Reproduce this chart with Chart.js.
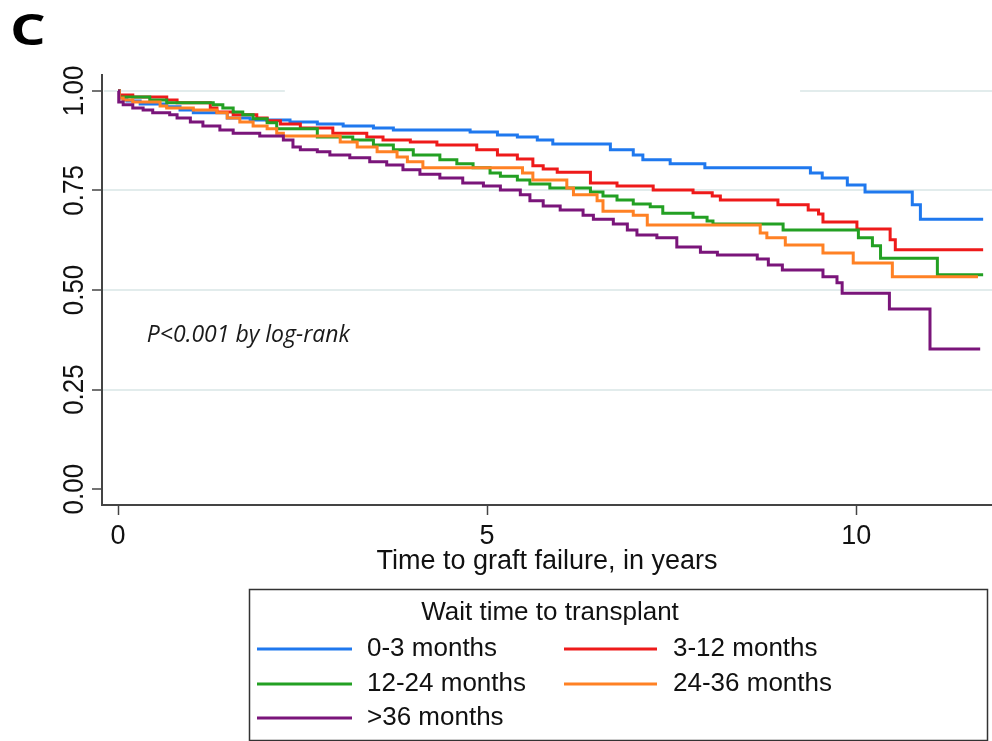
<!DOCTYPE html>
<html>
<head>
<meta charset="utf-8">
<script src="https://cdn.jsdelivr.net/npm/chart.js@4.4.1/dist/chart.umd.min.js"></script>
<style>
  html, body { margin: 0; padding: 0; background: #fff; }
  #wrap { position: relative; width: 992px; height: 741px; }
</style>
</head>
<body>
<div id="wrap"><canvas id="km" width="992" height="741"></canvas></div>
<script>
// Kaplan-Meier curves by wait time to transplant
const groupLabels = ['0-3 months', '3-12 months', '12-24 months', '24-36 months', '>36 months'];

const time0to3 = [0, 0.02, 0.12, 0.30, 0.66, 0.84, 1.02, 1.48, 1.79, 2.33, 2.70, 3.05, 3.46, 3.73, 4.77, 5.14, 5.41, 5.68, 5.89, 6.67, 6.98, 7.11, 7.48, 7.95, 9.38, 9.54, 9.88, 10.12, 10.76, 10.87, 11.72];
const surv0to3 = [1.000, 0.982, 0.975, 0.967, 0.960, 0.952, 0.945, 0.932, 0.927, 0.922, 0.917, 0.912, 0.907, 0.902, 0.897, 0.889, 0.884, 0.877, 0.867, 0.852, 0.839, 0.827, 0.817, 0.807, 0.794, 0.781, 0.764, 0.746, 0.714, 0.678, 0.678];

const time3to12 = [0, 0.02, 0.20, 0.66, 0.80, 1.25, 1.34, 1.56, 1.88, 2.02, 2.20, 2.47, 2.91, 3.37, 3.59, 3.96, 4.32, 4.86, 5.14, 5.41, 5.62, 5.76, 5.95, 6.40, 6.76, 7.25, 7.79, 8.05, 8.16, 8.94, 9.35, 9.49, 9.55, 10.01, 10.46, 10.53, 11.72];
const surv3to12 = [1.000, 0.990, 0.985, 0.977, 0.970, 0.957, 0.947, 0.940, 0.932, 0.925, 0.917, 0.907, 0.894, 0.884, 0.877, 0.872, 0.864, 0.852, 0.839, 0.829, 0.812, 0.804, 0.796, 0.769, 0.761, 0.751, 0.744, 0.736, 0.726, 0.714, 0.701, 0.691, 0.671, 0.653, 0.626, 0.601, 0.601];

const time12to24 = [0, 0.02, 0.43, 0.66, 1.29, 1.42, 1.56, 1.69, 1.83, 2.02, 2.15, 2.70, 3.18, 3.46, 3.73, 4.00, 4.36, 4.59, 4.81, 5.04, 5.18, 5.41, 5.58, 5.85, 6.40, 6.57, 6.76, 6.98, 7.21, 7.38, 7.79, 7.98, 8.06, 9.01, 10.03, 10.22, 10.33, 11.10, 11.72];
const surv12to24 = [1.000, 0.985, 0.977, 0.970, 0.965, 0.957, 0.947, 0.940, 0.930, 0.920, 0.905, 0.884, 0.877, 0.864, 0.852, 0.839, 0.827, 0.817, 0.807, 0.794, 0.786, 0.776, 0.766, 0.756, 0.746, 0.736, 0.726, 0.716, 0.709, 0.693, 0.683, 0.673, 0.666, 0.651, 0.631, 0.611, 0.580, 0.538, 0.538];

const time24to36 = [0, 0.02, 0.07, 0.20, 0.57, 0.66, 1.02, 1.34, 1.48, 1.65, 1.83, 2.02, 2.15, 2.24, 3.01, 3.24, 3.51, 3.78, 3.92, 4.13, 5.48, 5.62, 6.08, 6.17, 6.49, 6.57, 6.98, 7.17, 8.70, 8.79, 9.04, 9.55, 9.96, 10.49, 11.65];
const surv24to36 = [1.000, 0.982, 0.977, 0.972, 0.962, 0.957, 0.952, 0.945, 0.932, 0.922, 0.912, 0.905, 0.894, 0.887, 0.872, 0.859, 0.847, 0.834, 0.822, 0.807, 0.794, 0.776, 0.756, 0.739, 0.724, 0.698, 0.688, 0.663, 0.643, 0.631, 0.613, 0.593, 0.568, 0.533, 0.533];

const timeOver36 = [0, 0.01, 0.07, 0.20, 0.34, 0.47, 0.70, 0.80, 0.98, 1.15, 1.38, 1.56, 1.92, 2.24, 2.37, 2.47, 2.70, 2.87, 3.14, 3.41, 3.64, 3.86, 4.09, 4.36, 4.67, 4.95, 5.18, 5.45, 5.58, 5.76, 5.99, 6.30, 6.44, 6.71, 6.90, 7.03, 7.30, 7.57, 7.89, 8.12, 8.66, 8.81, 9.00, 9.55, 9.74, 9.81, 10.45, 11.00, 11.68];
const survOver36 = [1.000, 0.972, 0.965, 0.957, 0.952, 0.945, 0.940, 0.932, 0.922, 0.912, 0.902, 0.894, 0.887, 0.877, 0.859, 0.852, 0.847, 0.839, 0.832, 0.822, 0.814, 0.802, 0.791, 0.781, 0.769, 0.761, 0.751, 0.739, 0.724, 0.711, 0.701, 0.688, 0.678, 0.666, 0.651, 0.638, 0.631, 0.608, 0.595, 0.588, 0.578, 0.563, 0.550, 0.533, 0.518, 0.492, 0.452, 0.352, 0.352];

const xTickValues = [0, 5, 10];
const yTickValues = [0, 0.25, 0.5, 0.75, 1];

const xTitle = 'Time to graft failure, in years';
const legendTitle = 'Wait time to transplant';
const pValueText = 'P<0.001 by log-rank';
const panelLetter = 'C';

const colors = ['#1f78ee', '#ee1a1a', '#23a023', '#ff8124', '#7a157a'];
const sansFont = '"Liberation Sans", Arial, sans-serif';

function toPoints(times, surv) {
    return times.map(function (t, i) { return { x: t, y: surv[i] }; });
}

const allTimes = [time0to3, time3to12, time12to24, time24to36, timeOver36];
const allSurv = [surv0to3, surv3to12, surv12to24, surv24to36, survOver36];

const datasets = groupLabels.map(function (label, i) {
    return {
        label: label,
        data: toPoints(allTimes[i], allSurv[i]),
        borderColor: colors[i],
        backgroundColor: colors[i],
        borderWidth: 3,
        stepped: true,
        pointRadius: 0,
        fill: false,
        order: 4 - i   // last group drawn on top
    };
});

// extra drawing: rotated y labels, partial top gridline, p-value, panel letter, legend box
const extras = {
    id: 'extras',
    beforeDatasetsDraw(chart) {
        const ctx = chart.ctx;
        const x = chart.scales.x, y = chart.scales.y;
        const yTop = y.getPixelForValue(1);
        ctx.save();
        ctx.strokeStyle = '#e2ecec';
        ctx.lineWidth = 2;
        ctx.beginPath();
        ctx.moveTo(chart.chartArea.left + 2, yTop);
        ctx.lineTo(x.getPixelForValue(2.26), yTop);
        ctx.moveTo(x.getPixelForValue(9.24), yTop);
        ctx.lineTo(chart.chartArea.right, yTop);
        ctx.stroke();
        ctx.restore();
    },
    afterDraw(chart) {
        const ctx = chart.ctx;
        const x = chart.scales.x, y = chart.scales.y;
        ctx.save();

        // y tick labels, rotated
        ctx.fillStyle = '#111';
        ctx.font = '26px ' + sansFont;
        ctx.textAlign = 'center';
        ctx.textBaseline = 'middle';
        yTickValues.forEach(function (v) {
            ctx.save();
            ctx.translate(75, y.getPixelForValue(v));
            ctx.rotate(-Math.PI / 2);
            ctx.scale(1, 1.1);
            ctx.fillText(v.toFixed(2), 0, 0);
            ctx.restore();
        });

        // p-value note
        ctx.font = 'italic 23px "Open Sans", "Noto Sans", sans-serif';
        ctx.textAlign = 'left';
        ctx.fillStyle = '#1a1a1a';
        ctx.fillText(pValueText, x.getPixelForValue(0.39), y.getPixelForValue(0.387));

        // panel letter
        ctx.save();
        ctx.font = 'bold 46px "Open Sans", "Noto Sans", sans-serif';
        ctx.textBaseline = 'alphabetic';
        ctx.fillStyle = '#000';
        ctx.translate(10, 45);
        ctx.scale(1.22, 0.95);
        ctx.fillText(panelLetter, 0, 0);
        ctx.restore();

        // legend box
        ctx.strokeStyle = '#333';
        ctx.lineWidth = 1.5;
        ctx.strokeRect(249.5, 589.5, 738, 151);
        ctx.font = '26px ' + sansFont;
        ctx.fillStyle = '#111';
        ctx.textAlign = 'center';
        ctx.textBaseline = 'middle';
        ctx.fillText(legendTitle, 550, 613);

        const colX = [[257, 352, 367], [564, 657, 673]];
        const rowY = [649, 684, 718];
        ctx.textAlign = 'left';
        chart.data.datasets.forEach(function (ds, i) {
            const c = colX[i % 2];
            const ry = rowY[Math.floor(i / 2)];
            ctx.strokeStyle = ds.borderColor;
            ctx.lineWidth = 3;
            ctx.beginPath();
            ctx.moveTo(c[0], ry);
            ctx.lineTo(c[1], ry);
            ctx.stroke();
            ctx.fillText(ds.label, c[2], ry);
        });
        ctx.restore();
    }
};

const ctx = document.getElementById('km').getContext('2d');
new Chart(ctx, {
    type: 'line',
    data: { datasets: datasets },
    plugins: [extras],
    options: {
        responsive: false,
        animation: false,
        devicePixelRatio: 1,
        layout: { padding: { top: 75, right: 0, bottom: 0, left: 0 } },
        plugins: {
            legend: { display: false },
            tooltip: { enabled: false }
        },
        scales: {
            x: {
                type: 'linear',
                min: -0.217,
                max: 11.84,
                afterBuildTicks: function (s) { s.ticks = xTickValues.map(function (v) { return { value: v }; }); },
                afterFit: function (s) { s.height = 236; },
                grid: { drawOnChartArea: false, tickLength: 10, tickColor: '#444', tickWidth: 1.5 },
                border: { color: '#444', width: 2 },
                ticks: {
                    font: { family: sansFont, size: 27 },
                    color: '#111',
                    padding: 5,
                    maxRotation: 0,
                    callback: function (v) { return v; }
                },
                title: {
                    display: true,
                    text: xTitle,
                    color: '#111',
                    font: { family: sansFont, size: 27 },
                    padding: { top: 0, bottom: 163 }
                }
            },
            y: {
                type: 'linear',
                min: -0.04,
                max: 1.04,
                afterBuildTicks: function (s) { s.ticks = yTickValues.map(function (v) { return { value: v }; }); },
                afterFit: function (s) { s.width = 102; },
                grid: {
                    color: function (c) {
                        if (c.tick && (c.tick.value === 0 || c.tick.value === 1)) return 'rgba(0,0,0,0)';
                        return '#e2ecec';
                    },
                    lineWidth: 2,
                    tickLength: 10,
                    tickColor: '#444',
                    tickWidth: 1.5
                },
                border: { color: '#444', width: 2 },
                ticks: { display: false }
            }
        }
    }
});
</script>
</body>
</html>
